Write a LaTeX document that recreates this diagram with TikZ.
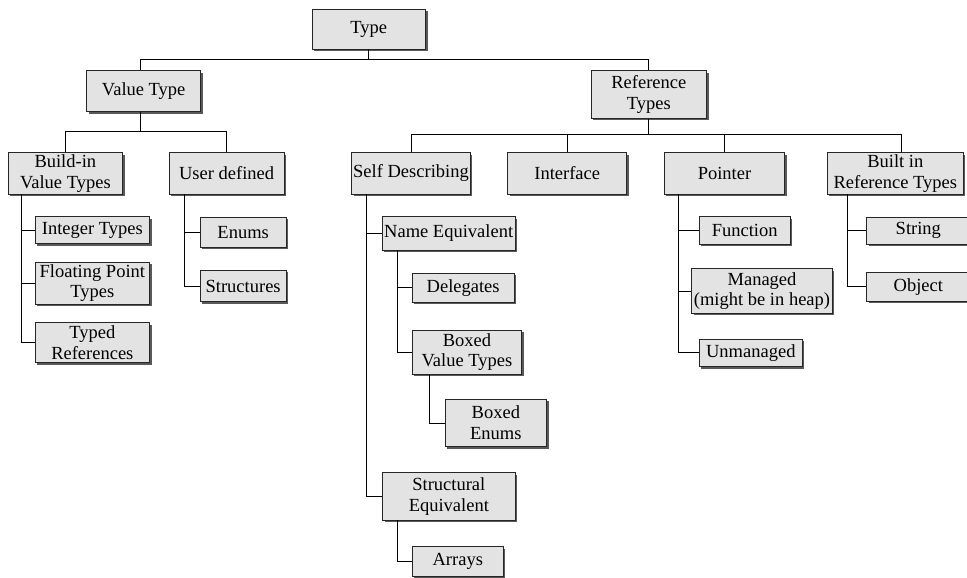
\documentclass[tikz,border=0pt]{standalone}
\usepackage{fontspec}
\setmainfont{Liberation Serif}
\newfontfamily\boxfont{Liberation Serif}
\usetikzlibrary{shadows}
\begin{document}
\begin{tikzpicture}[x=1pt, y=-1pt,
  font=\boxfont\fontsize{18.5}{20.8}\selectfont,
  box/.style={draw=black!85, line width=0.8pt, fill=black!11, inner sep=0pt,
    align=center, text=black,
    general shadow={fill=black!65, shadow xshift=2pt, shadow yshift=-2pt}},
  link/.style={draw=black, line width=0.8pt}]
\useasboundingbox (0,0) rectangle (967,578);

% top levels
\node[box, minimum width=113.5, minimum height=40] (type) at (368.75,29) {Type};
\node[box, minimum width=114, minimum height=41] (vt) at (143.7,91.2) {Value Type};
\node[box, minimum width=115.7, minimum height=47.6] (rt) at (648.85,94.5) {Reference\\Types};

% value type branch
\node[box, minimum width=114.7, minimum height=41.3] (bi) at (65.35,173.35) {Build-in\\Value Types};
\node[box, minimum width=114.7, minimum height=41.3] (ud) at (226.65,173.35) {User defined};
\node[box, minimum width=114.7, minimum height=27] (int) at (92.35,230.3) {Integer Types};
\node[box, minimum width=114.7, minimum height=41.7] (flt) at (92.35,283.15) {Floating Point\\Types};
\node[box, minimum width=114.7, minimum height=40] (tref) at (92.35,342.7) {Typed\\References};
\node[box, minimum width=85.7, minimum height=30.3] (enu) at (243.15,232.15) {Enums};
\node[box, minimum width=85.7, minimum height=31.4] (str) at (243.15,286) {Structures};

% reference type branch
\node[box, minimum width=118.6, minimum height=41.3] (sd) at (411,173.35) {Self Describing};
\node[box, minimum width=119, minimum height=41.3] (ifc) at (567.2,173.35) {Interface};
\node[box, minimum width=120.4, minimum height=41.3] (ptr) at (724.5,173.35) {Pointer};
\node[box, minimum width=136, minimum height=41.3] (bir) at (895.3,173.35) {Built in\\Reference Types};

\node[box, minimum width=132.7, minimum height=33.3] (ne) at (448.65,233.35) {Name Equivalent};
\node[box, minimum width=101.7, minimum height=28.7] (del) at (463.15,287.65) {Delegates};
\node[box, minimum width=109.4, minimum height=44.3] (bvt) at (467,352.15) {Boxed\\Value Types};
\node[box, minimum width=101.7, minimum height=47.4] (be) at (495.85,423) {Boxed\\Enums};
\node[box, minimum width=132.3, minimum height=47.3] (se) at (448.85,496.35) {Structural\\Equivalent};
\node[box, minimum width=91, minimum height=30] (arr) at (457.8,561.7) {Arrays};

\node[box, minimum width=90.7, minimum height=27.3] (fn) at (744.65,230.35) {Function};
\node[box, minimum width=140.6, minimum height=44.6] (mgd) at (762,291) {Managed\\(might be in heap)};
\node[box, minimum width=103, minimum height=27.7] (umg) at (750.8,352.85) {Unmanaged};

\node[box, minimum width=103.3, minimum height=27] (sg) at (918.35,230.5) {String};
\node[box, minimum width=103.3, minimum height=28.3] (obj) at (918.35,286.85) {Object};

% bus levels
\coordinate (bus0) at (0,59.3);
\coordinate (bus1) at (0,131);
\coordinate (bus2) at (0,134.3);

% tree from the root
\draw[link] (type.south) -- (type.south |- bus0) -| ([xshift=-3pt]vt.north);
\draw[link] (type.south |- bus0) -| (rt.north);

\draw[link] ([xshift=-3pt]vt.south) -- ([xshift=-3pt]vt.south |- bus1) -| (bi.north);
\draw[link] ([xshift=-3pt]vt.south |- bus1) -| (ud.north);

\draw[link] (rt.south) -- (rt.south |- bus2) -| (sd.north);
\draw[link] (rt.south |- bus2) -| (ifc.north);
\draw[link] (rt.south |- bus2) -| (ptr.north);
\draw[link] (rt.south |- bus2) -| ([xshift=6pt]bir.north);

% side trunks
\draw[link] ([xshift=13.3pt]bi.south west) |- (int.west);
\draw[link] ([xshift=13.3pt]bi.south west) |- (flt.west);
\draw[link] ([xshift=13.3pt]bi.south west) |- (tref.west);

\draw[link] ([xshift=15pt]ud.south west) |- (enu.west);
\draw[link] ([xshift=15pt]ud.south west) |- (str.west);

\draw[link] ([xshift=15pt]sd.south west) |- (ne.west);
\draw[link] ([xshift=15pt]sd.south west) |- (se.west);
\draw[link] ([xshift=15.4pt]ne.south west) |- (del.west);
\draw[link] ([xshift=15.4pt]ne.south west) |- (bvt.west);
\draw[link] ([xshift=17pt]bvt.south west) |- (be.west);
\draw[link] ([xshift=14.6pt]se.south west) |- (arr.west);

\draw[link] ([xshift=14.7pt]ptr.south west) |- (fn.west);
\draw[link] ([xshift=14.7pt]ptr.south west) |- (mgd.west);
\draw[link] ([xshift=14.7pt]ptr.south west) |- (umg.west);

\draw[link] ([xshift=20.4pt]bir.south west) |- (sg.west);
\draw[link] ([xshift=20.4pt]bir.south west) |- (obj.west);
\end{tikzpicture}
\end{document}
